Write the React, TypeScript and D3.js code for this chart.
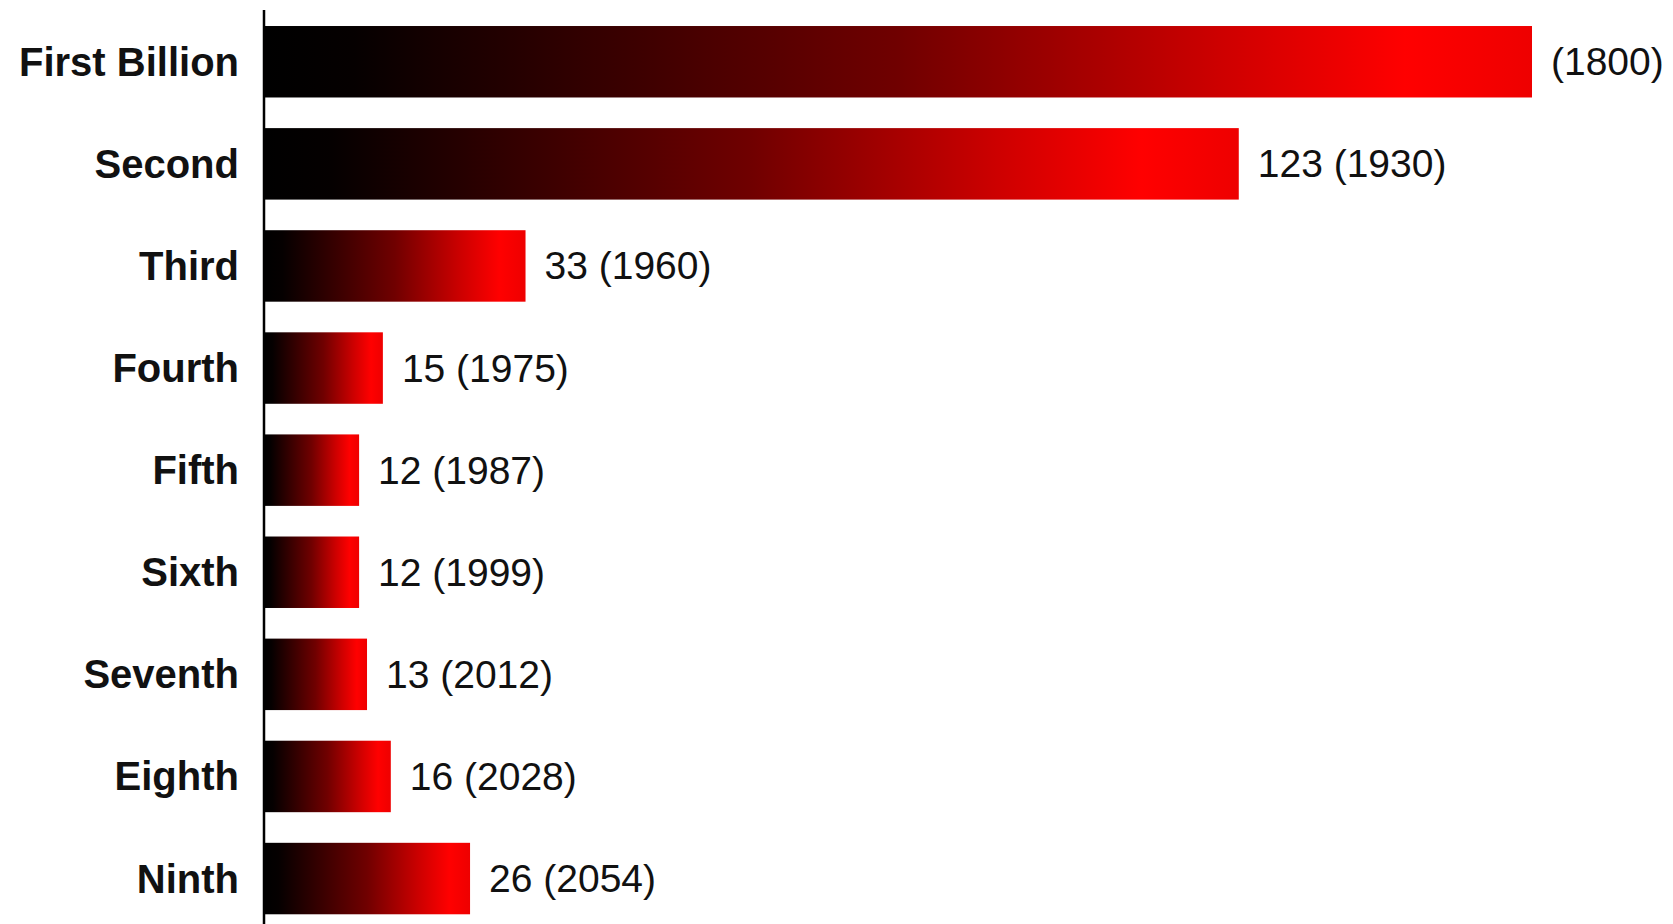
import React from "react";
import * as d3 from "d3";

const categories = ["First Billion", "Second", "Third", "Fourth", "Fifth", "Sixth", "Seventh", "Eighth", "Ninth"];
// years taken to add each billion (first one)
const yearsTaken = [160, 123, 33, 15, 12, 12, 13, 16, 26];
const milestoneYear = [1800, 1930, 1960, 1975, 1987, 1999, 2012, 2028, 2054];
const showYears = [false, true, true, true, true, true, true, true, true];

const W = 1673;
const H = 924;
const AXIS_X = 264;

export default function App() {
  const x = d3.scaleLinear().domain([0, 160]).range([AXIS_X, 1532]);
  const y = d3
    .scaleBand<string>()
    .domain(categories)
    .range([10.7, 929.6])
    .paddingInner(0.3)
    .paddingOuter(0.15);

  return (
    <svg
      width={W}
      height={H}
      style={{ position: "absolute", left: 0, top: 0, background: "#fff" }}
      fontFamily="'Liberation Sans', Arial, sans-serif"
    >
      <defs>
        <linearGradient id="barGrad" x1="0" y1="0" x2="1" y2="0">
          <stop offset="0" stopColor="#000000" />
          <stop offset="0.07" stopColor="#050000" />
          <stop offset="0.5" stopColor="#700000" />
          <stop offset="0.75" stopColor="#cc0000" />
          <stop offset="0.9" stopColor="#ff0000" />
          <stop offset="1" stopColor="#ee0000" />
        </linearGradient>
      </defs>
      <rect width={W} height={H} fill="#fff" />
      {categories.map((c, i) => {
        const y0 = y(c)!;
        const bw = y.bandwidth();
        const x1 = x(yearsTaken[i]);
        const label = showYears[i] ? `${yearsTaken[i]} (${milestoneYear[i]})` : `(${milestoneYear[i]})`;
        return (
          <g key={c}>
            <rect x={AXIS_X} y={y0} width={x1 - AXIS_X} height={bw} fill="url(#barGrad)" />
            <text
              x={239}
              y={y0 + bw / 2}
              textAnchor="end"
              dominantBaseline="central"
              fontSize={40}
              fontWeight="bold"
              fill="#111"
            >
              {c}
            </text>
            <text
              x={x1 + 19}
              y={y0 + bw / 2}
              dominantBaseline="central"
              fontSize={39}
              fill="#111"
            >
              {label}
            </text>
          </g>
        );
      })}
      <line x1={AXIS_X} x2={AXIS_X} y1={10} y2={H} stroke="#000" strokeWidth={2.5} />
    </svg>
  );
}
